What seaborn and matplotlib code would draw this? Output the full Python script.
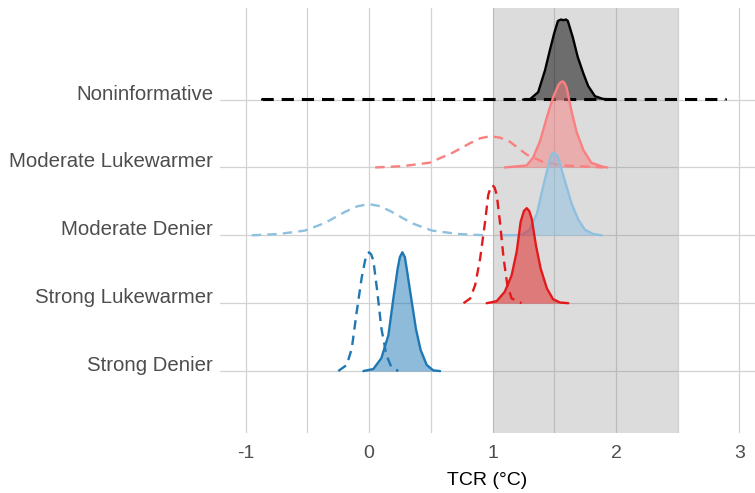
import numpy as np
import pandas as pd
import matplotlib
matplotlib.use('Agg')
import matplotlib.pyplot as plt
import seaborn as sns

# rows from bottom to top
groups = ["Strong Denier", "Strong Lukewarmer", "Moderate Denier",
          "Moderate Lukewarmer", "Noninformative"]
colors = ["#1f78b4", "#e31a1c", "#8ec0e0", "#f98080", "#000000"]

# densities: x in degC, h in row heights
sd_post_x = [-0.046, 0.035, 0.10, 0.157, 0.197, 0.232, 0.25, 0.27, 0.29, 0.305, 0.346, 0.38, 0.418, 0.467, 0.52, 0.575]
sd_post_h = [0, 0.03, 0.19, 0.53, 1.07, 1.51, 1.68, 1.75, 1.68, 1.51, 1.02, 0.62, 0.31, 0.09, 0.01, 0]
sd_prior_x = [-0.249, -0.18, -0.14, -0.10, -0.06, -0.032, -0.015, 0.0, 0.017, 0.035, 0.067, 0.10, 0.14, 0.18, 0.237]
sd_prior_h = [0, 0.09, 0.33, 0.87, 1.37, 1.63, 1.72, 1.75, 1.72, 1.63, 1.17, 0.63, 0.24, 0.06, 0]

sl_post_x = [0.953, 1.034, 1.10, 1.155, 1.196, 1.228, 1.255, 1.277, 1.297, 1.317, 1.352, 1.39, 1.44, 1.49, 1.547, 1.614]
sl_post_h = [0, 0.03, 0.17, 0.41, 0.76, 1.20, 1.36, 1.40, 1.36, 1.25, 0.85, 0.51, 0.22, 0.06, 0.01, 0]
sl_prior_x = [0.765, 0.82, 0.86, 0.90, 0.94, 0.965, 0.983, 1.00, 1.018, 1.035, 1.06, 1.09, 1.12, 1.155, 1.235]
sl_prior_h = [0, 0.07, 0.27, 0.66, 1.20, 1.59, 1.70, 1.74, 1.70, 1.59, 1.20, 0.66, 0.27, 0.07, 0]

md_post_x = [1.07, 1.235, 1.30, 1.36, 1.41, 1.45, 1.47, 1.49, 1.51, 1.53, 1.585, 1.64, 1.695, 1.75, 1.815, 1.885]
md_post_h = [0, 0.005, 0.08, 0.32, 0.72, 1.01, 1.16, 1.22, 1.20, 1.16, 0.81, 0.47, 0.23, 0.08, 0.02, 0]
md_prior_x = [-0.95, -0.73, -0.52, -0.36, -0.19, -0.09, 0.0, 0.09, 0.18, 0.345, 0.51, 0.72, 0.95]
md_prior_h = [0, 0.02, 0.07, 0.18, 0.35, 0.43, 0.46, 0.43, 0.35, 0.18, 0.07, 0.02, 0]

ml_post_x = [1.10, 1.277, 1.33, 1.385, 1.44, 1.49, 1.535, 1.555, 1.57, 1.585, 1.60, 1.64, 1.68, 1.735, 1.80, 1.895, 1.93]
ml_post_h = [0, 0.03, 0.15, 0.39, 0.74, 1.03, 1.22, 1.26, 1.27, 1.24, 1.18, 0.83, 0.53, 0.26, 0.07, 0.01, 0]
ml_prior_x = [0.05, 0.275, 0.49, 0.68, 0.82, 0.90, 0.98, 1.06, 1.14, 1.277, 1.41, 1.57, 1.9]
ml_prior_h = [0, 0.02, 0.07, 0.22, 0.36, 0.43, 0.46, 0.44, 0.38, 0.19, 0.08, 0.03, 0]

ni_post_x = [1.247, 1.30, 1.37, 1.425, 1.465, 1.50, 1.53, 1.555, 1.575, 1.595, 1.61, 1.65, 1.69, 1.735, 1.775, 1.83, 1.895, 2.0]
ni_post_h = [0, 0.0, 0.11, 0.43, 0.73, 0.98, 1.16, 1.18, 1.17, 1.18, 1.16, 0.92, 0.63, 0.39, 0.20, 0.05, 0.01, 0]
ni_prior_x = [-0.865, -0.865, 2.88, 2.88]
ni_prior_h = [0, 0.015, 0.015, 0]

post_x = [sd_post_x, sl_post_x, md_post_x, ml_post_x, ni_post_x]
post_h = [sd_post_h, sl_post_h, md_post_h, ml_post_h, ni_post_h]
prior_x = [sd_prior_x, sl_prior_x, md_prior_x, ml_prior_x, ni_prior_x]
prior_h = [sd_prior_h, sl_prior_h, md_prior_h, ml_prior_h, ni_prior_h]

frames = []
for i, g in enumerate(groups):
    frames.append(pd.DataFrame({"group": g, "kind": "posterior", "x": post_x[i],
                                "y": np.array(post_h[i]) + i + 1, "base": i + 1}))
    frames.append(pd.DataFrame({"group": g, "kind": "prior", "x": prior_x[i],
                                "y": np.array(prior_h[i]) + i + 1, "base": i + 1}))
df = pd.concat(frames, ignore_index=True)

sns.set_theme(style="whitegrid")
plt.rcParams['font.family'] = ['Liberation Sans', 'DejaVu Sans']

fig = plt.figure(figsize=(7.55, 4.93), dpi=100)
ax = fig.add_axes([220 / 755, 60 / 493, 535 / 755, 425 / 493])

ax.axvspan(1, 2.5, color="grey", alpha=0.27, lw=0, zorder=1.5)

# top row first so lower rows overlap it
for i in range(len(groups) - 1, -1, -1):
    g, c = groups[i], colors[i]
    z = 10 + (len(groups) - 1 - i) * 3
    post = df[(df.group == g) & (df.kind == "posterior")]
    prior = df[(df.group == g) & (df.kind == "prior")]
    ax.fill_between(post.x, post.base, post.y, color=c, alpha=0.5, lw=0, zorder=z)
    sns.lineplot(data=post, x="x", y="y", color=c, lw=1.7, ax=ax, sort=False,
                 estimator=None, zorder=z + 1)
    sns.lineplot(data=prior, x="x", y="y", color=c, lw=2.2 if i == 4 else 1.7, ax=ax,
                 sort=False, estimator=None, zorder=z + 2, ls=(0, (4, 2.6)))

ax.set_xlim(-1.207, 3.126)
ax.set_ylim(0.087, 6.35)
ax.set_xticks([-1, 0, 1, 2, 3])
ax.set_xticklabels(["-1", "0", "1", "2", "3"])
ax.set_xticks([-0.5, 0.5, 1.5, 2.5], minor=True)
ax.set_yticks([1, 2, 3, 4, 5])
ax.set_yticklabels(groups)
for lab in ax.get_yticklabels():
    lab.set_verticalalignment("baseline")
ax.grid(True, which="both", color="#d2d2d2", lw=0.9)
ax.set_axisbelow(True)
for s in ax.spines.values():
    s.set_visible(False)
ax.tick_params(axis="x", which="both", length=0, pad=9, labelsize=14, labelcolor="#4d4d4d")
ax.tick_params(axis="y", length=0, pad=5, labelsize=14.7, labelcolor="#4d4d4d")
ax.set_xlabel("TCR (°C)", fontsize=14, color="black", labelpad=7)
ax.set_ylabel("")

fig.savefig("out.png", dpi=100)
